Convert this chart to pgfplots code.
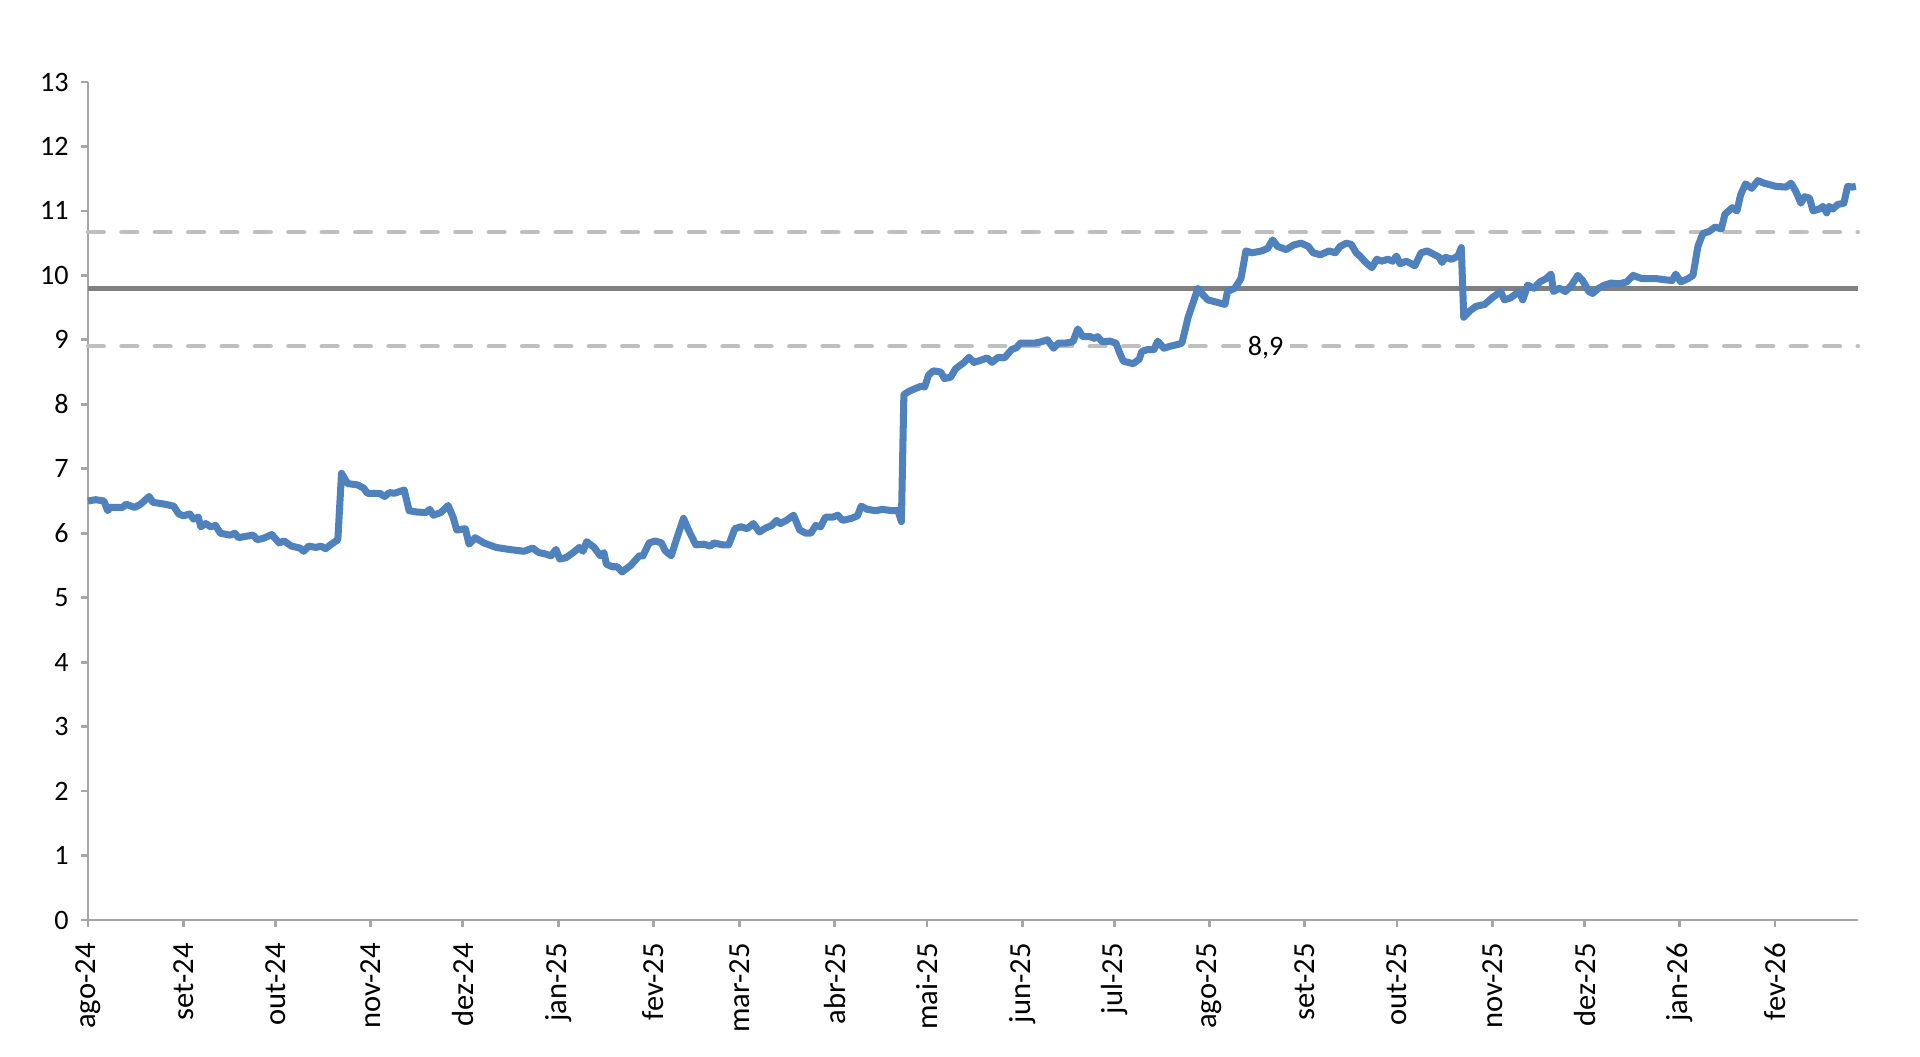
\documentclass[border=0pt]{standalone}
\usepackage{pgfplots}
\pgfplotsset{compat=1.18}
\usepackage{fontspec}
\setmainfont{Carlito}
\definecolor{serie}{HTML}{4F81BD}
\definecolor{media}{HTML}{808080}
\definecolor{banda}{HTML}{BFBFBF}
\definecolor{eixo}{HTML}{A6A6A6}
\pgfplotstableread{
d v
0 6.50
2.5 6.52
5.2 6.50
6.4 6.35
7.2 6.40
11.2 6.40
12.4 6.45
15.2 6.40
17.1 6.45
19.9 6.57
21.1 6.48
25.1 6.45
27.9 6.42
29.5 6.30
31.1 6.27
33.1 6.30
34.3 6.22
35.9 6.25
36.7 6.10
38.3 6.15
39.9 6.10
41.5 6.12
43.1 6.00
46.2 5.97
47.8 6.00
49.0 5.93
51.0 5.95
53.8 5.97
55.0 5.90
57.0 5.92
59.8 5.98
62.2 5.85
63.8 5.88
66.2 5.80
69.0 5.77
70.2 5.72
71.8 5.80
74.2 5.78
75.8 5.80
77.3 5.76
78.9 5.82
81.3 5.90
82.5 6.93
84.5 6.77
87.7 6.75
89.7 6.70
90.9 6.62
94.9 6.62
96.5 6.57
98.1 6.63
99.7 6.62
102.9 6.67
104.5 6.35
106.9 6.33
110.0 6.32
111.2 6.37
112.4 6.28
114.8 6.32
117.2 6.43
118.8 6.25
120.0 6.05
122.8 6.07
124.0 5.83
126.0 5.93
128.8 5.85
132.8 5.78
136.8 5.75
141.9 5.72
144.7 5.77
146.7 5.70
148.7 5.68
150.7 5.65
152.3 5.75
153.5 5.60
155.5 5.62
157.9 5.70
159.9 5.78
161.1 5.72
162.3 5.87
164.7 5.78
166.7 5.65
167.9 5.70
168.7 5.52
170.6 5.48
172.2 5.48
173.8 5.40
176.6 5.50
179.4 5.65
180.6 5.65
182.6 5.85
184.6 5.88
186.6 5.85
187.8 5.73
189.8 5.65
191.8 5.95
193.8 6.23
195.4 6.05
197.8 5.82
200.5 5.83
202.5 5.80
203.7 5.85
206.5 5.82
208.5 5.82
210.5 6.07
212.5 6.10
214.5 6.07
216.5 6.15
218.5 6.02
220.5 6.08
222.5 6.12
224.1 6.20
225.3 6.15
227.3 6.20
229.6 6.28
231.6 6.05
233.6 6.00
235.2 6.00
236.8 6.12
238.4 6.10
240.0 6.25
242.4 6.25
244.0 6.28
245.6 6.20
248.4 6.23
250.4 6.27
251.6 6.42
253.6 6.37
256.4 6.35
258.4 6.37
261.6 6.35
263.6 6.35
264.7 6.18
265.5 8.15
267.1 8.20
269.5 8.25
271.1 8.28
272.3 8.27
273.5 8.45
275.1 8.52
277.5 8.50
278.7 8.40
280.7 8.42
282.3 8.55
285.1 8.65
286.7 8.73
288.3 8.65
290.3 8.68
292.6 8.72
294.2 8.65
296.2 8.73
298.2 8.72
300.6 8.85
302.2 8.88
303.4 8.95
306.2 8.95
308.2 8.95
310.2 8.97
312.2 9.00
314.2 8.87
315.8 8.95
318.2 8.95
320.5 8.97
322.1 9.17
323.7 9.05
326.1 9.05
327.7 9.02
328.5 9.05
330.1 8.97
332.5 8.98
334.5 8.95
335.7 8.80
336.9 8.67
340.1 8.63
342.1 8.70
342.9 8.82
344.9 8.85
346.9 8.85
348.1 8.98
350.1 8.87
352.1 8.90
354.8 8.93
356.0 8.95
358.0 9.35
361.2 9.80
362.8 9.70
364.4 9.62
366.0 9.60
370.0 9.55
370.8 9.75
373.2 9.80
375.2 9.95
376.8 10.38
378.8 10.35
382.0 10.38
383.9 10.42
385.5 10.55
387.1 10.45
389.9 10.40
392.3 10.47
394.7 10.50
397.1 10.45
398.7 10.35
401.1 10.32
403.9 10.38
405.9 10.35
407.5 10.45
409.5 10.50
411.1 10.48
412.7 10.35
413.9 10.30
415.8 10.20
417.8 10.12
419.4 10.25
421.0 10.22
423.0 10.25
424.6 10.22
425.8 10.30
427.0 10.18
429.0 10.22
431.8 10.15
433.8 10.35
435.8 10.38
437.8 10.33
439.8 10.28
440.6 10.20
441.8 10.28
443.8 10.25
445.8 10.30
446.9 10.43
447.7 9.35
449.7 9.45
451.7 9.52
454.5 9.55
456.9 9.65
459.7 9.75
460.9 9.62
462.9 9.65
465.7 9.75
466.9 9.62
468.5 9.85
470.5 9.80
472.5 9.90
474.5 9.95
476.1 10.02
476.9 9.75
478.8 9.80
480.8 9.75
482.8 9.85
484.8 10.00
486.4 9.92
488.4 9.75
489.6 9.72
491.6 9.80
493.6 9.85
495.6 9.88
498.4 9.87
500.8 9.90
502.8 10.00
505.6 9.95
507.6 9.95
510.3 9.95
513.5 9.93
515.5 9.92
516.7 10.02
518.3 9.90
520.7 9.95
522.3 10.00
523.9 10.45
525.5 10.65
527.5 10.68
529.5 10.75
531.5 10.72
532.7 10.95
535.1 11.05
536.6 11.00
537.8 11.25
539.4 11.42
541.4 11.35
543.4 11.47
545.4 11.43
549.4 11.38
552.6 11.37
554.2 11.43
555.8 11.30
557.4 11.12
558.6 11.22
560.2 11.20
561.4 11.00
563.4 11.03
564.6 11.07
565.8 10.97
566.6 11.07
567.8 11.03
569.4 11.10
571.4 11.12
572.6 11.38
574.1 11.37
575.3 11.38
}\dados
\begin{document}
\begin{tikzpicture}
\path[use as bounding box] (0,0) rectangle (19.2cm,10.56cm);
\begin{axis}[
  at={(0.88cm,1.36cm)}, anchor=south west,
  scale only axis, width=17.7cm, height=8.38cm,
  xmin=0, xmax=576, ymin=0, ymax=13,
  axis x line*=bottom, axis y line*=left,
  axis line style={eixo, line width=0.8pt},
  tick style={eixo, line width=0.8pt},
  tick align=outside, major tick length=0.07cm,
  ytick={0,1,...,13},
  xtick={0,31,61,92,122,153,184,212,243,273,304,334,365,396,426,457,487,518,549},
  xticklabels={ago-24,set-24,out-24,nov-24,dez-24,jan-25,fev-25,mar-25,abr-25,mai-25,jun-25,jul-25,ago-25,set-25,out-25,nov-25,dez-25,jan-26,fev-26},
  xticklabel style={rotate=90, anchor=east, font=\fontsize{8.7}{10}\selectfont, xshift=-0.04cm},
  yticklabel style={font=\fontsize{8}{9}\selectfont},
  /pgf/number format/assume math mode=true,
  clip=false,
]
\addplot[banda, line width=1.2pt, line cap=round, dash pattern=on 4.5pt off 5pt, forget plot] coordinates {(0,10.67) (576,10.67)};
\addplot[banda, line width=1.2pt, line cap=round, dash pattern=on 4.5pt off 5pt, forget plot] coordinates {(0,8.9) (576,8.9)};
\addplot[media, line width=1.3pt, forget plot] coordinates {(0,9.8) (576,9.8)};
\addplot[serie, line width=2pt, line join=round] table[x=d, y=v] {\dados};
\node[fill=white, inner sep=2pt, font=\fontsize{8}{9}\selectfont] at (axis cs:383.2,8.88) {8,9};
\end{axis}
\end{tikzpicture}
\end{document}
